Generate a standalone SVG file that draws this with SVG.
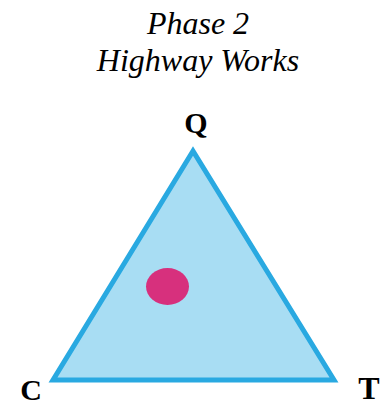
<svg xmlns="http://www.w3.org/2000/svg" width="387" height="403" viewBox="0 0 387 403">
<style>
.title{font-family:"Liberation Serif",serif;font-style:italic;font-size:32px;fill:#000;text-anchor:middle}
.lbl{font-family:"Liberation Serif",serif;font-weight:bold;font-size:30px;fill:#000;text-anchor:middle}
</style>
<rect width="387" height="403" fill="#fff"/>
<g id="title">
<text class="title" x="198" y="34">Phase 2</text>
<text class="title" x="198" y="71">Highway Works</text>
</g>
<g id="triangle">
<polygon points="193,151 53,380 334,380" fill="#a8ddf3" stroke="#29a9e1" stroke-width="5" stroke-linejoin="miter"/>
</g>
<g id="point">
<ellipse cx="167.5" cy="286.5" rx="21.5" ry="18.5" fill="#d7307d"/>
</g>
<g id="labels">
<text class="lbl" x="196" y="133">Q</text>
<text class="lbl" x="31" y="400">C</text>
<text class="lbl" x="369" y="399" style="font-size:32px">T</text>
</g>
</svg>
